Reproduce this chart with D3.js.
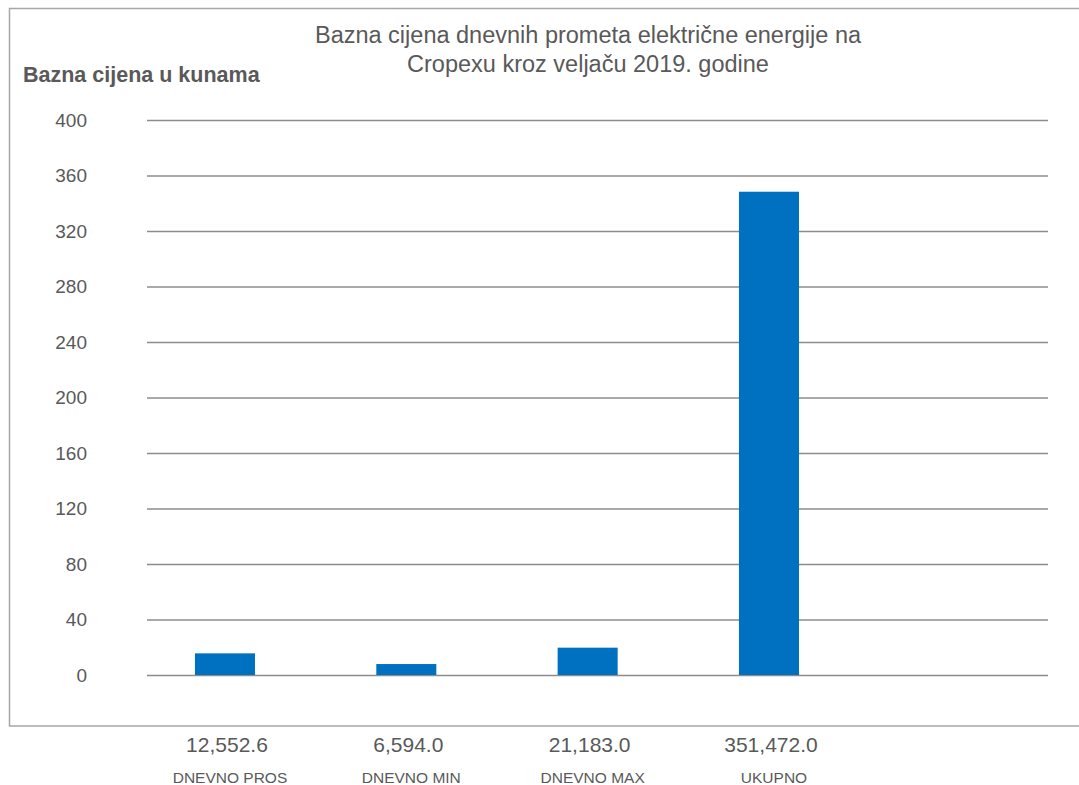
<!DOCTYPE html>
<html>
<head>
<meta charset="utf-8">
<script src="https://cdn.jsdelivr.net/npm/d3@7"></script>
<style>
  body { margin: 0; background: #fff; }
  text { font-family: "Liberation Sans", Arial, sans-serif; fill: #595959; }
</style>
</head>
<body>
<div id="chart"></div>
<script>
const categories = ["DNEVNO PROS", "DNEVNO MIN", "DNEVNO MAX", "UKUPNO", ""];
const barValues = [15.6, 7.9, 19.7, 348.3];
const valueLabels = ["12,552.6", "6,594.0", "21,183.0", "351,472.0"];
const yTicks = [0, 40, 80, 120, 160, 200, 240, 280, 320, 360, 400];
const titleLines = ["Bazna cijena dnevnih prometa električne energije na", "Cropexu kroz veljaču 2019. godine"];
const yTitle = "Bazna cijena u kunama";

const width = 1079, height = 785;

const svg = d3.select("#chart")
  .append("svg")
  .attr("width", width)
  .attr("height", height);

// outer frame
svg.append("rect")
  .attr("x", 9.5).attr("y", 8.5)
  .attr("width", 1080).attr("height", 717.5)
  .attr("fill", "none")
  .attr("stroke", "#a6a6a6")
  .attr("stroke-width", 1.5);

const xScale = d3.scaleBand()
  .domain(categories)
  .range([134.3, 1041])
  .paddingInner(0.669)
  .paddingOuter(0.3345);

const yScale = d3.scaleLinear()
  .domain([0, 400])
  .range([675, 120]);

const gridLeft = 147, gridRight = 1048;

const yAxis = d3.axisLeft(yScale)
  .tickValues(yTicks)
  .tickSize(-(gridRight - gridLeft))
  .tickSizeOuter(0)
  .tickPadding(60);

const gy = svg.append("g")
  .attr("class", "y-axis")
  .attr("transform", `translate(${gridLeft},0)`)
  .call(yAxis);

gy.select(".domain").remove();
gy.selectAll(".tick line")
  .attr("stroke", "#8c8c8c")
  .attr("stroke-width", 1.3);
gy.selectAll(".tick text")
  .attr("font-size", "19px")
  .attr("fill", "#595959")
  .style("font-family", "'Liberation Sans', Arial, sans-serif");

// bars
svg.append("g")
  .selectAll("rect")
  .data(barValues)
  .join("rect")
  .attr("x", (d, i) => xScale(categories[i]))
  .attr("width", xScale.bandwidth())
  .attr("y", d => yScale(d))
  .attr("height", d => yScale(0) - yScale(d))
  .attr("fill", "#0070c0");

// value labels below the frame
svg.append("g")
  .selectAll("text")
  .data(valueLabels)
  .join("text")
  .attr("x", (d, i) => xScale(categories[i]) + xScale.bandwidth() / 2 + 2)
  .attr("y", 752)
  .attr("text-anchor", "middle")
  .attr("font-size", "21px")
  .text(d => d);

// category labels
svg.append("g")
  .selectAll("text")
  .data(categories.filter(c => c))
  .join("text")
  .attr("x", (d, i) => xScale(d) + xScale.bandwidth() / 2 + 5)
  .attr("y", 783)
  .attr("text-anchor", "middle")
  .attr("font-size", "15.5px")
  .text(d => d);

// title
svg.append("text")
  .attr("x", 590)
  .attr("y", 43)
  .attr("text-anchor", "middle")
  .attr("font-size", "23.5px")
  .selectAll("tspan")
  .data(titleLines)
  .join("tspan")
  .attr("x", 588)
  .attr("dy", (d, i) => i === 0 ? 0 : 29)
  .text(d => d);

// y axis title
svg.append("text")
  .attr("x", 23)
  .attr("y", 81.5)
  .attr("font-size", "21.5px")
  .attr("font-weight", "bold")
  .text(yTitle);
</script>
</body>
</html>
